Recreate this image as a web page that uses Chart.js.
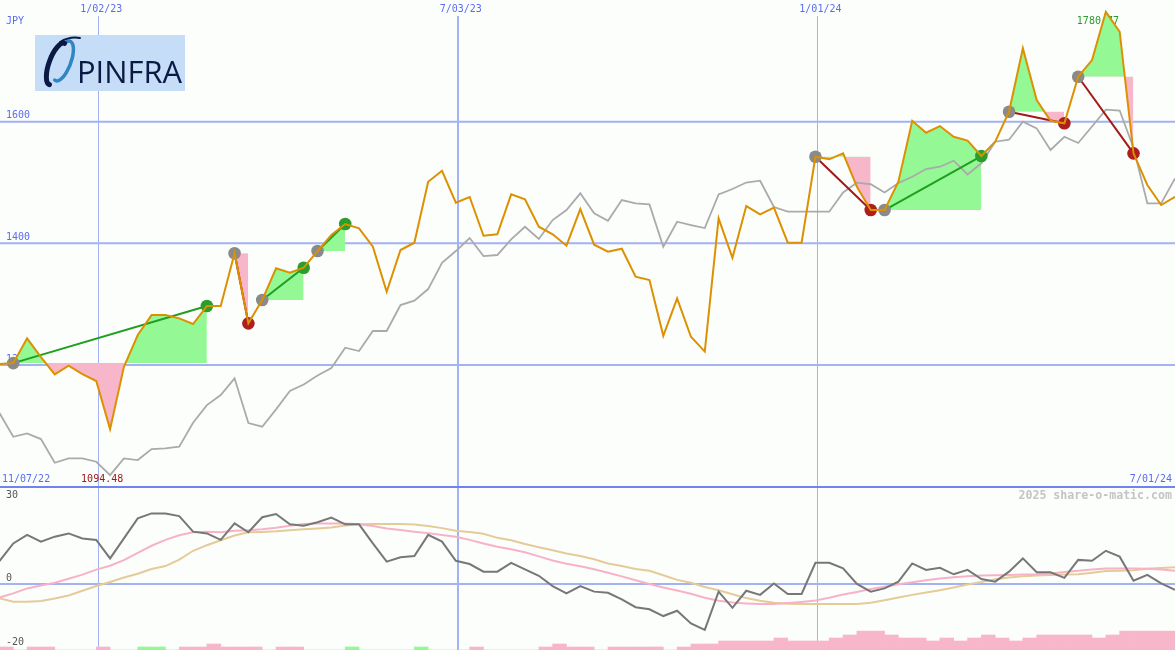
<!DOCTYPE html>
<html><head><meta charset="utf-8">
<script src="https://cdn.jsdelivr.net/npm/chart.js@4.4.1/dist/chart.umd.min.js"></script>
<style>
html,body{margin:0;padding:0;background:#fcfefc;}
#wrap{position:relative;width:1175px;height:650px;overflow:hidden;background:#fcfefc}
canvas{position:absolute;left:0}
</style></head><body>
<div id="wrap">
<canvas id="top" width="1175" height="486" style="top:0"></canvas>
<canvas id="bot" width="1175" height="164" style="top:486px"></canvas>
</div>
<script>
// ---------- data ----------
const startDate = '2022-11-13';               // first weekly point
const gridDates = ['2023-01-02','2023-07-03','2024-01-01'];
const gridDateLabels = ['1/02/23','7/03/23','1/01/24'];
const firstLabel = '11/07/22';
const lastLabel = '7/01/24';
const currency = 'JPY';
const priceTicks = [1600,1400,1200];
const macdTicks = [30,0,-20];

const price = [1201.5,1203,1243.7,1213,1184.5,1198.7,1185,1173.5,1094.48,1197,
1249.2,1282,1282,1276.6,1267.3,1296.9,1296.9,1383.6,1268.4,1306.7,
1358.9,1351.6,1359.9,1387.3,1413.7,1431.7,1424.7,1394.4,1320.4,1389,
1401,1501.3,1519.4,1466.8,1476.2,1412.5,1414.8,1480.6,1472.4,1427.3,
1414.8,1396.1,1456.4,1397.7,1386.2,1391.1,1345.1,1339.6,1248,1309.5,
1246.4,1222,1441.1,1376.3,1461.3,1447.7,1458.6,1401,1401,1542.4,
1538.2,1548,1493.1,1454.8,1454.8,1501.3,1601.6,1581.9,1592.9,1575.3,
1569.1,1543.6,1567.1,1616.4,1720.7,1635.7,1601.6,1597.4,1674,1701.5,
1780.77,1748,1548,1495.9,1463,1476.6];

const bench = [1120.9,1081.9,1087.5,1078.1,1039.1,1046.4,1046.4,1040.8,1018.9,1046.4,
1043.6,1061.7,1062.8,1065.5,1104.9,1134,1150.5,1178,1104.4,1098.4,
1127,1157.1,1167.8,1182.6,1194.9,1228.3,1222.9,1255.8,1255.8,1298.5,
1305.6,1324.8,1367.9,1387.3,1408.7,1379.1,1380.8,1406.6,1427.3,1407.1,
1438.3,1454.8,1482.2,1449.3,1437.2,1471.2,1465.8,1464.1,1394.4,1435.5,
1430.1,1425.2,1480.3,1489.3,1500,1503,1459.7,1452,1452,1452,
1452,1483.6,1499.7,1497.2,1483.6,1499.2,1509.5,1522.2,1526,1535.9,
1513.2,1531.6,1567.1,1570.4,1600,1589.1,1553.5,1575.3,1565,1592.1,
1619.9,1618.4,1556.7,1465.8,1465.8,1506.9];

const macd = [7.8,13.8,16.7,14.4,16.1,17.2,15.5,15.0,8.7,15.5,
22.3,24.0,24.0,23.1,17.8,17.2,15.0,20.6,17.6,22.7,
23.8,20.3,19.8,21.0,22.6,20.3,20.3,13.8,7.6,9.1,
9.5,16.7,14.4,7.9,6.8,4.2,4.2,7.2,5.0,2.8,
-0.7,-3.2,-0.7,-2.6,-3.0,-5.2,-7.9,-8.6,-10.9,-9.1,
-13.4,-15.6,-2.6,-8.1,-2.3,-3.7,0.2,-3.4,-3.4,7.2,
7.2,5.3,0,-2.6,-1.5,0.8,7.0,4.8,5.5,3.3,
4.8,1.7,0.8,4.2,8.7,4.0,4.0,2.1,8.2,7.9,
11.3,9.3,1.1,3.1,0.2,-2.0];

const signal = [-4.6,-3.2,-1.5,-0.5,0.4,1.8,3.2,4.9,6.2,8.1,
10.6,13.0,15.0,16.6,17.6,17.8,17.6,18.1,18.3,18.6,
19.1,19.8,20.4,20.6,20.6,20.6,20.3,19.7,18.9,18.4,
17.8,17.3,16.7,16.1,15.0,13.8,12.7,11.8,10.8,9.4,
8.0,6.9,6.0,5.0,3.8,2.6,1.3,0,-1.2,-2.2,
-3.3,-4.7,-5.7,-6.3,-6.6,-6.8,-6.8,-6.5,-6.1,-5.6,
-4.7,-3.6,-2.7,-1.7,-0.9,-0.1,0.6,1.3,1.9,2.3,
2.6,2.9,3.0,3.1,3.2,3.3,3.6,4.1,4.5,4.9,
5.3,5.3,5.3,5.2,4.9,4.5];

const slow = [-4.9,-6.0,-6.0,-5.8,-4.9,-3.9,-2.3,-0.7,0.7,2.2,
3.5,5.1,6.1,8.3,11.3,13.2,14.9,16.5,17.6,17.7,
17.9,18.3,18.6,18.9,19.2,19.9,20.3,20.4,20.4,20.4,
20.2,19.7,19.0,18.1,17.7,17.1,15.7,14.9,13.6,12.5,
11.5,10.4,9.5,8.4,7.0,6.1,5.1,4.5,3.0,1.4,
0.4,-1.0,-2.1,-3.5,-4.8,-5.7,-6.4,-6.7,-6.8,-6.8,
-6.8,-6.8,-6.8,-6.4,-5.5,-4.6,-3.7,-2.9,-2.1,-1.2,
-0.2,0.7,1.6,2.2,2.6,2.9,3.1,3.2,3.3,3.8,
4.4,4.5,4.7,5.2,5.4,5.7];

const hist = [-1,0,-1,-1,0,0,0,-1,0,0,
1,1,0,-1,-1,-2,-1,-1,-1,0,
-1,-1,0,0,0,1,0,0,0,0,
1,0,0,0,-1,0,0,0,0,-1,
-2,-1,-1,0,-1,-1,-1,-1,0,-1,
-2,-2,-3,-3,-3,-3,-4,-3,-3,-3,
-4,-5,-6.3,-6.3,-5,-4,-4,-3,-4,-3,
-4,-5,-4,-3,-4,-5,-5,-5,-5,-4,
-5,-6.3,-6.3,-6.3,-6.3];

const tradeOpen  = [1,17,19,23,59,64,73,78];
const tradeClose = [15,18,22,25,63,71,77,82];
const watermark = '2025 share-o-matic.com';
const logoText = 'PINFRA';

// ---------- styles ----------
const BG = '#fcfefc', GRID = '#a2b2f2', SEP = '#7282ee', LBL = '#5a6cf0';
const GREEN_FILL = '#94f894', PINK_FILL = '#f8b6ca';

function idxOf(s){
  const p = s.split('-').map(Number), q = startDate.split('-').map(Number);
  return (Date.UTC(p[0],p[1]-1,p[2]) - Date.UTC(q[0],q[1]-1,q[2])) / (7*864e5);
}
const pts = arr => arr.map((v,i)=>({x:i,y:v}));
const XMIN = 0.04, XMAX = 85;

function bgPlugin(id){ return {id, beforeDraw(chart){const c=chart.ctx;c.save();c.fillStyle=BG;c.fillRect(0,0,chart.width,chart.height);c.restore();}}; }

const topDecor = {
  id:'topDecor',
  beforeDatasetsDraw(chart){
    const c = chart.ctx, xs = chart.scales.x, ys = chart.scales.y, W = chart.width, H = chart.height;
    c.save();
    c.strokeStyle = GRID;
    priceTicks.forEach(v=>{const y=ys.getPixelForValue(v);c.lineWidth=2;c.beginPath();c.moveTo(0,y);c.lineTo(W,y);c.stroke();});
    gridDates.forEach((d,k)=>{const x=Math.round(xs.getPixelForValue(idxOf(d)))+(k===1?0:0.5);c.lineWidth=k===1?2:1;c.beginPath();c.moveTo(x,16);c.lineTo(x,H);c.stroke();});
    c.font = '10px "DejaVu Sans Mono"'; c.textBaseline='middle'; c.fillStyle=LBL;
    c.textAlign='center';
    gridDates.forEach((d,k)=>c.fillText(gridDateLabels[k], xs.getPixelForValue(idxOf(d))+3, 9));
    c.textAlign='left';
    c.fillText(currency,6,21);
    priceTicks.forEach(v=>c.fillText(String(v),6,ys.getPixelForValue(v)-6));
    c.fillText(firstLabel,2,479);
    c.textAlign='right'; c.fillText(lastLabel,1172,479);
    let mi=0, ma=0;
    price.forEach((v,i)=>{if(v<price[mi])mi=i;if(v>price[ma])ma=i;});
    c.textAlign='left';
    c.fillStyle='#a01818'; c.fillText(price[mi].toFixed(2), xs.getPixelForValue(mi)-29, 479);
    c.fillStyle='#2a9a2a'; c.fillText(price[ma].toFixed(2), xs.getPixelForValue(ma)-29, 21);
    // logo
    c.fillStyle='#c6ddf8'; c.fillRect(35,35,150,56);
    c.lineCap='round';
    c.strokeStyle='#2f86c0'; c.lineWidth=3.5; c.beginPath(); c.ellipse(63,61,8,21,0.35,-Math.PI*0.6,Math.PI*0.55); c.stroke();
    c.strokeStyle='#0b1a45'; c.lineWidth=5; c.beginPath(); c.ellipse(57,64,8,22,0.35,Math.PI*0.5,Math.PI*1.5); c.stroke();
    c.lineWidth=2; c.beginPath(); c.moveTo(60,42); c.quadraticCurveTo(70,36,80,38); c.stroke();
    c.fillStyle='#0b1a45'; c.font='31px "Open Sans"'; c.textBaseline='alphabetic'; c.textAlign='left';
    c.fillText(logoText,77,83,105);
    c.restore();
  }
};

const botDecor = {
  id:'botDecor',
  beforeDatasetsDraw(chart){
    const c = chart.ctx, xs = chart.scales.x, ys = chart.scales.y, W = chart.width, H = chart.height;
    c.save();
    c.strokeStyle = GRID;
    gridDates.forEach((d,k)=>{const x=Math.round(xs.getPixelForValue(idxOf(d)))+(k===1?0:0.5);c.lineWidth=k===1?2:1;c.beginPath();c.moveTo(x,0);c.lineTo(x,H);c.stroke();});
    const y0 = ys.getPixelForValue(0);
    c.lineWidth=2; c.beginPath(); c.moveTo(0,y0); c.lineTo(W,y0); c.stroke();
    c.strokeStyle = SEP; c.lineWidth=2; c.beginPath(); c.moveTo(0,1); c.lineTo(W,1); c.stroke();
    c.font='10px "DejaVu Sans Mono"'; c.textBaseline='middle'; c.textAlign='left'; c.fillStyle='#555555';
    macdTicks.forEach(v=>c.fillText(String(v),6,ys.getPixelForValue(v)-(v===0?6:0)));
    c.font='bold 11.6px "DejaVu Sans Mono"'; c.textAlign='right'; c.fillStyle='#c4c4c4';
    c.fillText(watermark,1172,10);
    c.restore();
  }
};

// ---------- top chart ----------
const topSets = [];
topSets.push({data:pts(price), borderColor:'#dd9000', borderWidth:2, pointRadius:0, fill:false, order:1});
tradeOpen.forEach((a,k)=>{
  const b = tradeClose[k], lvl = price[a], win = price[b] > lvl;
  topSets.push({data:price.slice(a,b+1).map((v,j)=>({x:a+j,y:v})), borderColor:'rgba(0,0,0,0)', borderWidth:0, pointRadius:0,
    fill:{target:{value:lvl}, above:GREEN_FILL, below:PINK_FILL}, order:5});
  topSets.push({data:[{x:a,y:lvl},{x:b,y:price[b]}], borderColor: win?'#1f9e1f':'#a31818', borderWidth:2,
    pointRadius:6.3, pointBorderWidth:0, pointBackgroundColor:['#8a8a8a', win?'#2a9e2a':'#ae1e1e'], fill:false, order:2});
});
topSets.push({data:pts(bench), borderColor:'#aaaaaa', borderWidth:1.8, pointRadius:0, fill:false, order:3});

new Chart(document.getElementById('top'), {
  type:'line',
  data:{datasets:topSets},
  options:{
    responsive:false, animation:false, devicePixelRatio:1, events:[],
    layout:{padding:0, autoPadding:false},
    elements:{line:{tension:0}},
    plugins:{legend:{display:false}, tooltip:{enabled:false}},
    scales:{
      x:{type:'linear', min:XMIN, max:XMAX, display:false, offset:false},
      y:{type:'linear', min:1000.9, max:1800.2, display:false}
    }
  },
  plugins:[bgPlugin('bgTop'), topDecor]
});

// ---------- bottom chart ----------
new Chart(document.getElementById('bot'), {
  type:'line',
  data:{datasets:[
    {data:pts(macd), borderColor:'#777777', borderWidth:2, pointRadius:0, fill:false, order:1},
    {data:pts(signal), borderColor:'#f7b2c8', borderWidth:2, pointRadius:0, fill:false, order:2},
    {data:pts(slow), borderColor:'#e4cb98', borderWidth:2, pointRadius:0, fill:false, order:3},
    {type:'bar', yAxisID:'yh', data:hist.map((v,i)=>({x:i+0.5,y:Math.abs(v)})),
     backgroundColor:hist.map(v=>v>0?GREEN_FILL:PINK_FILL), borderWidth:0, barPercentage:1, categoryPercentage:1, grouped:false, order:4}
  ]},
  options:{
    responsive:false, animation:false, devicePixelRatio:1, events:[],
    layout:{padding:0, autoPadding:false},
    elements:{line:{tension:0}},
    plugins:{legend:{display:false}, tooltip:{enabled:false}},
    scales:{
      x:{type:'linear', min:XMIN, max:XMAX, display:false, offset:false},
      y:{type:'linear', min:-22.45, max:33.33, display:false},
      yh:{type:'linear', min:0, max:54.67, display:false}
    }
  },
  plugins:[bgPlugin('bgBot'), botDecor]
});
</script>
</body></html>
